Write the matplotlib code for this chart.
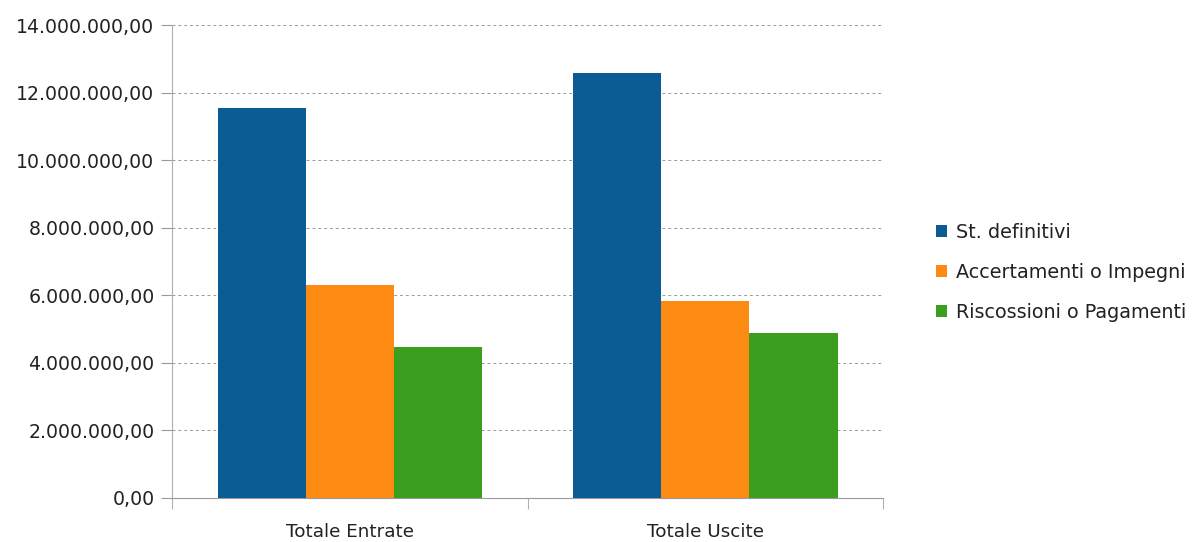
import matplotlib.pyplot as plt
from matplotlib.ticker import FuncFormatter
import numpy as np

categories = ['Totale Entrate', 'Totale Uscite']
series = ['St. definitivi', 'Accertamenti o Impegni', 'Riscossioni o Pagamenti']
st_definitivi = [11560000, 12600000]
accertamenti_impegni = [6310000, 5820000]
riscossioni_pagamenti = [4460000, 4870000]
colors = ['#0b5c94', '#fd8a12', '#3c9e1e']


def it_format(v, pos):
    # 12.000.000,00 style
    s = f'{v:,.2f}'
    return s.replace(',', 'X').replace('.', ',').replace('X', '.')


fig = plt.figure(figsize=(12.01, 5.42), dpi=100)
ax = fig.add_axes([0.1436, 0.0817, 0.5916, 0.8716])

x = np.arange(len(categories))
w = 0.248
values = [st_definitivi, accertamenti_impegni, riscossioni_pagamenti]
for i, (name, vals) in enumerate(zip(series, values)):
    ax.bar(x + (i - 1) * w, vals, w, color=colors[i], label=name, zorder=3)

ax.set_xlim(-0.5, len(categories) - 0.5)
ax.set_ylim(0, 14000000)
ax.set_yticks(np.arange(0, 14000001, 2000000))
ax.yaxis.set_major_formatter(FuncFormatter(it_format))
ax.grid(axis='y', linestyle=(0, (3, 3)), color='#999999', linewidth=0.7, zorder=0)

for s in ['top', 'right']:
    ax.spines[s].set_visible(False)
ax.spines['left'].set_color('#b0b0b0')
ax.spines['bottom'].set_color('#9a9a9a')

# group separators as ticks, category names as minor labels
ax.set_xticks([-0.5, 0.5, 1.5])
ax.set_xticklabels([])
ax.set_xticks(x, minor=True)
ax.set_xticklabels(categories, minor=True)
ax.tick_params(axis='x', which='major', length=8, color='#b0b0b0', width=0.8)
ax.tick_params(axis='x', which='minor', length=0, pad=18.5, labelsize=13.2, labelcolor='#222222')
ax.tick_params(axis='y', length=8, color='#9a9a9a', width=0.8, pad=5,
               labelsize=13.6, labelcolor='#222222')

ax.legend(loc='center left', bbox_to_anchor=(1.05, 0.477), frameon=False,
          fontsize=13.8, handlelength=0.6, handleheight=0.6, handletextpad=0.45,
          labelspacing=1.1, labelcolor='#222222')

plt.savefig('out.png', dpi=100)
